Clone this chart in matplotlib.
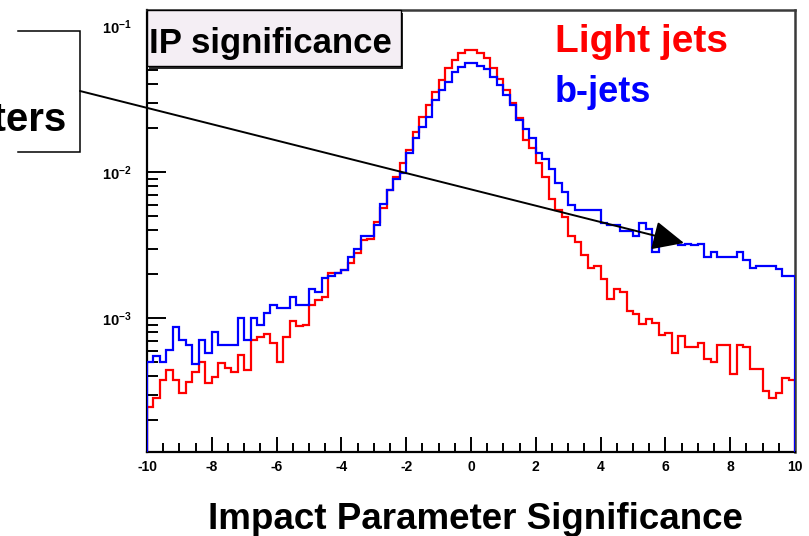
import numpy as np
import matplotlib
matplotlib.use("Agg")
import matplotlib.pyplot as plt
from matplotlib.patches import Rectangle
from matplotlib.ticker import FixedLocator, LogLocator, MultipleLocator, FuncFormatter, NullFormatter

# Histogram binning of the impact parameter significance
x_range = (-10.0, 10.0)
n_bins = 100

# Normalised bin contents, light-flavour jets
light_jets = [
    2.48e-4, 2.83e-4, 3.78e-4, 4.43e-4, 3.78e-4, 3.06e-4, 3.68e-4, 4.31e-4, 5.05e-4, 3.62e-4,
    3.98e-4, 4.92e-4, 4.54e-4, 4.31e-4, 5.61e-4, 4.43e-4, 7.10e-4, 7.48e-4, 7.80e-4, 6.75e-4,
    5.05e-4, 7.48e-4, 9.59e-4, 8.91e-4, 9.00e-4, 1.23e-3, 1.33e-3, 1.41e-3, 2.03e-3, 2.03e-3,
    2.14e-3, 2.38e-3, 2.79e-3, 3.44e-3, 3.52e-3, 4.59e-3, 5.66e-3, 7.57e-3, 9.33e-3, 1.15e-2,
    1.42e-2, 1.90e-2, 2.40e-2, 2.89e-2, 3.56e-2, 4.29e-2, 5.15e-2, 5.87e-2, 6.53e-2, 6.89e-2,
    6.89e-2, 6.61e-2, 6.04e-2, 5.15e-2, 4.34e-2, 3.66e-2, 3.00e-2, 2.34e-2, 1.66e-2, 1.46e-2,
    1.15e-2, 9.33e-3, 6.53e-3, 5.52e-3, 4.97e-3, 3.66e-3, 3.35e-3, 2.72e-3, 2.20e-3, 2.29e-3,
    1.85e-3, 1.35e-3, 1.58e-3, 1.52e-3, 1.13e-3, 1.07e-3, 9.14e-4, 9.84e-4, 9.33e-4, 7.69e-4,
    7.94e-4, 5.82e-4, 7.60e-4, 6.31e-4, 6.31e-4, 6.73e-4, 5.24e-4, 5.05e-4, 6.56e-4, 6.56e-4,
    4.15e-4, 6.56e-4, 6.31e-4, 4.47e-4, 4.47e-4, 3.19e-4, 2.83e-4, 3.09e-4, 3.88e-4, 3.76e-4,
]

# Normalised bin contents, b-jets
b_jets = [
    5.05e-4, 5.52e-4, 5.05e-4, 6.07e-4, 8.75e-4, 7.10e-4, 6.56e-4, 4.86e-4, 7.10e-4, 5.75e-4,
    8.00e-4, 6.56e-4, 6.56e-4, 6.56e-4, 1.00e-3, 7.10e-4, 1.00e-3, 9.00e-4, 1.08e-3, 1.23e-3,
    1.17e-3, 1.17e-3, 1.41e-3, 1.23e-3, 1.23e-3, 1.58e-3, 1.52e-3, 1.88e-3, 1.95e-3, 2.03e-3,
    2.14e-3, 2.62e-3, 2.97e-3, 3.66e-3, 3.66e-3, 4.36e-3, 6.04e-3, 7.57e-3, 8.95e-3, 9.84e-3,
    1.35e-2, 1.71e-2, 2.05e-2, 2.40e-2, 3.13e-2, 3.66e-2, 4.18e-2, 4.89e-2, 5.28e-2, 5.58e-2,
    5.57e-2, 5.35e-2, 5.07e-2, 4.52e-2, 3.96e-2, 3.38e-2, 2.89e-2, 2.28e-2, 1.97e-2, 1.71e-2,
    1.35e-2, 1.24e-2, 1.05e-2, 8.49e-3, 7.36e-3, 5.97e-3, 5.52e-3, 5.52e-3, 5.52e-3, 5.52e-3,
    4.47e-3, 4.37e-3, 4.37e-3, 3.98e-3, 3.98e-3, 3.66e-3, 4.52e-3, 4.07e-3, 2.86e-3, 3.44e-3,
    3.63e-3, 3.44e-3, 3.18e-3, 3.24e-3, 3.16e-3, 3.24e-3, 2.62e-3, 2.83e-3, 2.62e-3, 2.62e-3,
    2.62e-3, 2.83e-3, 2.51e-3, 2.20e-3, 2.29e-3, 2.29e-3, 2.29e-3, 2.16e-3, 1.95e-3, 1.95e-3,
]

x_ticks = [-10, -8, -6, -4, -2, 0, 2, 4, 6, 8, 10]
y_decades = [1e-3, 1e-2, 1e-1]
y_limits = (10 ** -3.916, 10 ** -0.888)

title_text = "IP significance"
series_labels = ["Light jets", "b-jets"]
x_label = "Impact Parameter Significance"

plt.rcParams["font.family"] = ["Liberation Sans", "DejaVu Sans"]
plt.rcParams["mathtext.fontset"] = "custom"
plt.rcParams["mathtext.rm"] = "Liberation Sans"
plt.rcParams["mathtext.bf"] = "Liberation Sans:bold"

W, H = 809, 536
fig = plt.figure(figsize=(W / 100, H / 100), dpi=100)
fig.patch.set_facecolor("white")

# frame in pixel coordinates: left 147, right 795, top 10, bottom 452
ax = fig.add_axes([147 / W, 1 - 452 / H, (795 - 147) / W, (452 - 10) / H])
edges = np.linspace(x_range[0], x_range[1], n_bins + 1)
floor = y_limits[0] * 0.1
ax.stairs(light_jets, edges, baseline=floor, color="#ff0000", lw=1.6, zorder=3)
ax.stairs(b_jets, edges, baseline=floor, color="#0000ff", lw=1.6, zorder=4)

ax.set_yscale("log")
ax.set_xlim(*x_range)
ax.set_ylim(*y_limits)

ax.xaxis.set_major_locator(FixedLocator(x_ticks))
ax.xaxis.set_minor_locator(MultipleLocator(0.5))
ax.xaxis.set_major_formatter(FuncFormatter(lambda v, p: f"{int(round(v))}"))
ax.yaxis.set_major_locator(FixedLocator(y_decades))
ax.yaxis.set_minor_locator(LogLocator(base=10, subs=np.arange(2, 10)))
ax.yaxis.set_minor_formatter(NullFormatter())
ax.yaxis.set_major_formatter(
    FuncFormatter(lambda v, p: r"$\mathbf{10^{%d}}$" % int(round(np.log10(v))))
)

ax.tick_params(axis="x", which="major", direction="in", length=11, width=1.4,
               pad=6, labelsize=10, top=False)
ax.tick_params(axis="x", which="minor", direction="in", length=6.3, width=1.4, top=False)
ax.tick_params(axis="y", which="major", direction="in", length=13.5, width=1.4,
               pad=11, labelsize=10.5, right=False)
ax.tick_params(axis="y", which="minor", direction="in", length=7.8, width=1.4, right=False)
for lab in ax.get_xticklabels():
    lab.set_fontweight("bold")

for side in ("left", "bottom"):
    ax.spines[side].set_color("black")
    ax.spines[side].set_linewidth(1.6)
for side in ("top", "right"):
    ax.spines[side].set_color("#3a3a3a")
    ax.spines[side].set_linewidth(1.8)

# overlay in pixel coordinates for annotations
ov = fig.add_axes([0, 0, 1, 1], zorder=10)
ov.set_xlim(0, W)
ov.set_ylim(H, 0)
ov.axis("off")
ov.patch.set_alpha(0)

# title box with shadow
ov.add_patch(Rectangle((149.5, 12.5), 254, 56.5, facecolor="#2a2a2a", edgecolor="none"))
ov.add_patch(Rectangle((147, 10), 254, 56, facecolor="#f4eef4", edgecolor="black", lw=1.0))
ov.text(149, 53, title_text, fontsize=25, fontweight="bold", color="black",
        ha="left", va="baseline")

# series labels
ov.text(555, 52, series_labels[0], fontsize=28, fontweight="bold", color="#ff0000",
        ha="left", va="baseline")
ov.text(555, 102, series_labels[1], fontsize=26, fontweight="bold", color="#0000ff",
        ha="left", va="baseline")

# x axis title
ov.text(475, 529, x_label, fontsize=26.5, fontweight="bold", color="black",
        ha="center", va="baseline")

# bracket callout with arrow
ov.plot([18, 80, 80, 18], [31, 31, 152, 152], color="black", lw=1.1,
        solid_joinstyle="miter")
ov.text(66, 131, "Parameters", fontsize=29, fontweight="bold", color="black",
        ha="right", va="baseline")
ov.annotate("", xy=(684, 243), xytext=(80, 91),
            arrowprops=dict(arrowstyle="-|>,head_length=1.95,head_width=0.9",
                            mutation_scale=10, lw=1.4, color="black",
                            shrinkA=0, shrinkB=0))

fig.savefig("out.png", dpi=100)
